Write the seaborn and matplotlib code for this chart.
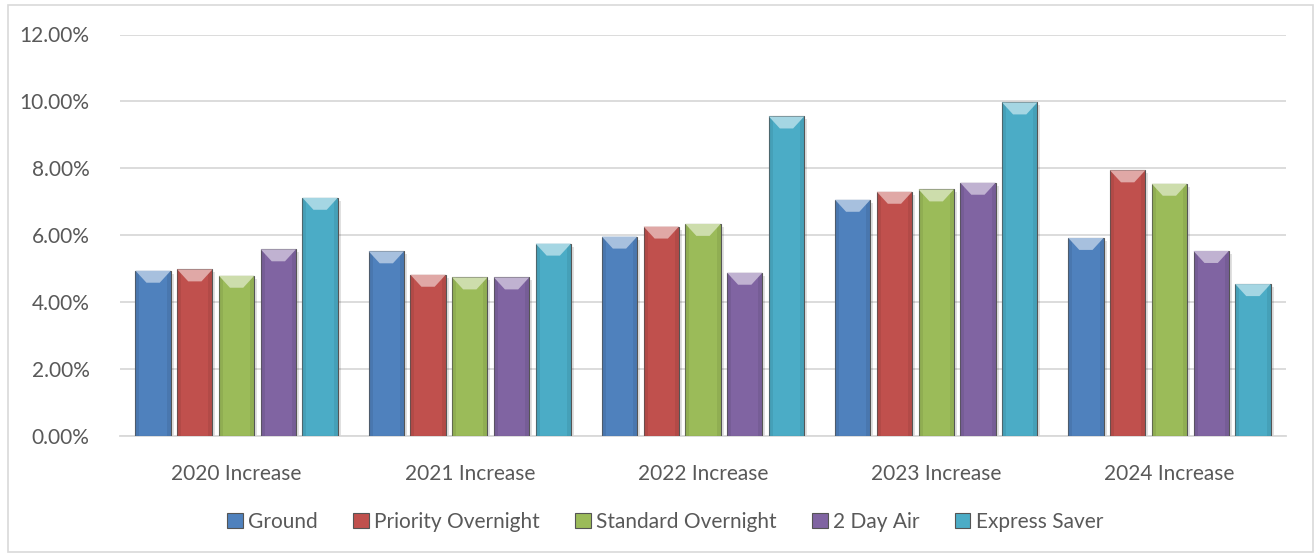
import numpy as np
import pandas as pd
import seaborn as sns
import matplotlib.pyplot as plt
import matplotlib.colors as mcolors
from matplotlib.patches import Polygon, Rectangle
from matplotlib.ticker import FuncFormatter

# values (percent increase)
years = ["2020 Increase", "2021 Increase", "2022 Increase", "2023 Increase", "2024 Increase"]
services = ["Ground", "Priority Overnight", "Standard Overnight", "2 Day Air", "Express Saver"]
ground = [4.94, 5.52, 5.96, 7.06, 5.92]
priority = [4.98, 4.82, 6.26, 7.30, 7.94]
standard = [4.79, 4.74, 6.34, 7.37, 7.54]
two_day = [5.58, 4.74, 4.88, 7.57, 5.53]
express = [7.12, 5.75, 9.55, 9.97, 4.54]
colors = ["#4F81BD", "#C0504D", "#9BBB59", "#8064A2", "#4BACC6"]

df = pd.DataFrame({
    "year": years * 5,
    "service": np.repeat(services, len(years)),
    "value": ground + priority + standard + two_day + express,
})

sns.set_style("white")
plt.rcParams["font.family"] = ["Lato", "DejaVu Sans"]
txt = "#595959"
fs = 15

fig = plt.figure(figsize=(13.15, 5.56), dpi=100)
ax = fig.add_axes([120 / 1315, 1 - 436 / 556, 1166 / 1315, (436 - 34.5) / 556])

sns.barplot(data=df, x="year", y="value", hue="service", palette=colors,
            width=0.895, gap=0.155, saturation=1, edgecolor="#555555",
            linewidth=0.8, ax=ax, zorder=3)

ax.set_ylim(0, 12)
ax.set_xlim(-0.5, 4.5)
ax.set_yticks(np.arange(0, 13, 2))
ax.yaxis.set_major_formatter(FuncFormatter(lambda v, p: f"{v:.2f}%"))
ax.yaxis.grid(True, color="#d9d9d9", lw=1.3)
ax.set_axisbelow(True)
for s in ["top", "right", "left"]:
    ax.spines[s].set_visible(False)
ax.spines["bottom"].set_color("#d9d9d9")
ax.spines["bottom"].set_linewidth(1.3)
ax.tick_params(length=0, labelsize=fs, colors=txt)
ax.tick_params(axis="y", pad=22)
ax.tick_params(axis="x", pad=20)
ax.set_xlabel("")
ax.set_ylabel("")

# bevel look on the bars
fig.canvas.draw()
inv = ax.transData.inverted()
for cont, c in zip(ax.containers, colors):
    light = mcolors.to_rgb(c)
    light = tuple(v + (1 - v) * 0.5 for v in light)
    dark = tuple(v * 0.8 for v in mcolors.to_rgb(c))
    for bar in cont:
        x0, w, h = bar.get_x(), bar.get_width(), bar.get_height()
        (px0, py0) = ax.transData.transform((x0, h))
        (px1, _) = ax.transData.transform((x0 + w, h))
        (ix0, iy) = inv.transform((px0 + 11, py0 - 12))
        (ix1, _) = inv.transform((px1 - 11, py0 - 12))
        ax.add_patch(Polygon([(x0, h), (x0 + w, h), (ix1, iy), (ix0, iy)],
                             closed=True, fc=light, ec="none", zorder=4))
        # darker side strips
        (sw, _) = inv.transform((px0 + 4, py0))
        ax.add_patch(Rectangle((x0, 0), sw - x0, h, fc=dark, ec="none",
                               alpha=0.35, zorder=3.5))
        ax.add_patch(Rectangle((x0 + w - (sw - x0), 0), sw - x0, h, fc=dark,
                               ec="none", alpha=0.35, zorder=3.5))
        (sx, sy) = inv.transform((px0 + 3, py0 - 3))
        ax.add_patch(Rectangle((sx, 0), w, sy, fc="#000000", alpha=0.12,
                               ec="none", zorder=2.5))

handles, labels = ax.get_legend_handles_labels()
ax.get_legend().remove()
fig.legend(handles, labels, loc="center", bbox_to_anchor=(665 / 1315, 1 - 522 / 556),
           ncol=5, frameon=False, fontsize=fs, labelcolor=txt,
           handlelength=0.75, handleheight=0.75, handletextpad=0.25,
           columnspacing=1.7)

fig.add_artist(Rectangle((8 / 1315, 4 / 556), (1313 - 8) / 1315, (551 - 4) / 556,
                         transform=fig.transFigure, fill=False, ec="#d9d9d9", lw=1.2))

fig.savefig("out.png", dpi=100)
